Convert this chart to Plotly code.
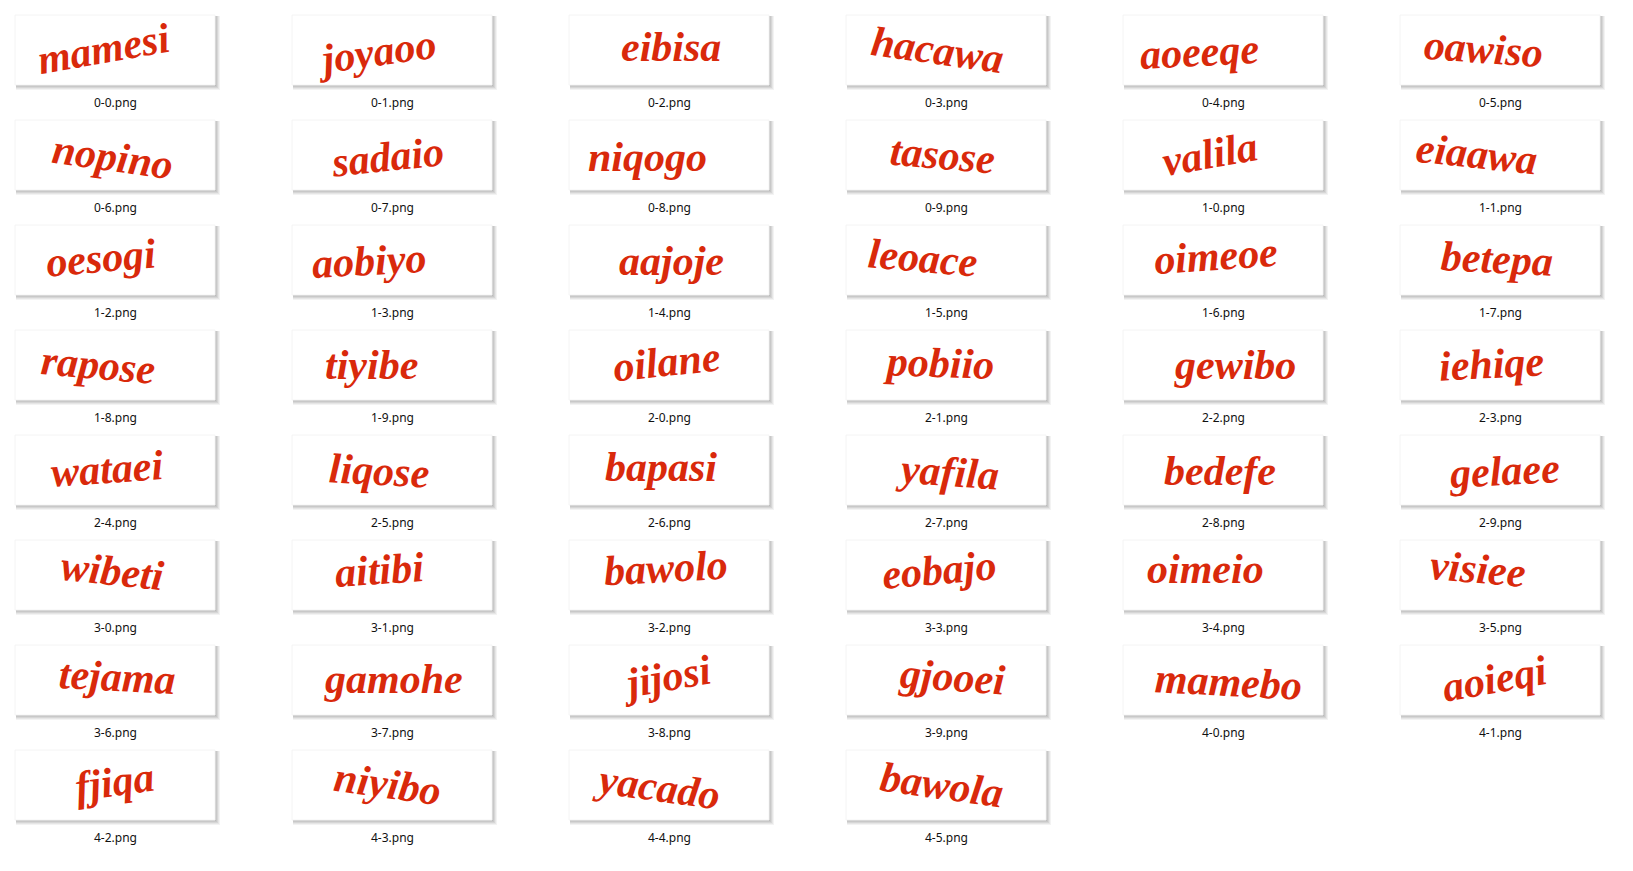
import plotly.graph_objects as go

# ---- data ----
file_names = [
    "0-0.png", "0-1.png", "0-2.png", "0-3.png", "0-4.png", "0-5.png",
    "0-6.png", "0-7.png", "0-8.png", "0-9.png", "1-0.png", "1-1.png",
    "1-2.png", "1-3.png", "1-4.png", "1-5.png", "1-6.png", "1-7.png",
    "1-8.png", "1-9.png", "2-0.png", "2-1.png", "2-2.png", "2-3.png",
    "2-4.png", "2-5.png", "2-6.png", "2-7.png", "2-8.png", "2-9.png",
    "3-0.png", "3-1.png", "3-2.png", "3-3.png", "3-4.png", "3-5.png",
    "3-6.png", "3-7.png", "3-8.png", "3-9.png", "4-0.png", "4-1.png",
    "4-2.png", "4-3.png", "4-4.png", "4-5.png",
]
captcha_words = [
    "mamesi", "joyaoo", "eibisa", "hacawa", "aoeeqe", "oawiso",
    "nopino", "sadaio", "niqogo", "tasose", "valila", "eiaawa",
    "oesogi", "aobiyo", "aajoje", "leoace", "oimeoe", "betepa",
    "rapose", "tiyibe", "oilane", "pobiio", "gewibo", "iehiqe",
    "wataei", "liqose", "bapasi", "yafila", "bedefe", "gelaee",
    "wibeti", "aitibi", "bawolo", "eobajo", "oimeio", "visiee",
    "tejama", "gamohe", "jijosi", "gjooei", "mamebo", "aoieqi",
    "fjiqa", "niyibo", "yacado", "bawola",
]

# ---- layout / style (not data) ----
n_cols = 6
col_step, row_step = 277, 105
box_w, box_h = 200, 70
x_start, y_start = 15, 15
label_gap = 17
word_dx = [
    -12, -16, 2, -9, -24, -17,
    -3, -5, -22, -4, -13, -24,
    -14, -23, 2, -23, -7, -3,
    -17, -21, -3, -7, 12, -9,
    -8, -13, -8, 1, -3, 4,
    -3, -13, -3, -7, -18, -22,
    2, 1, -3, 6, 5, -6,
    -1, -5, -12, -4,
]
word_dy = [
    -1, 2, -3, 0, 2, -1,
    2, 2, 2, 0, -1, -1,
    -2, 1, 1, -2, -4, -1,
    0, 0, -3, -2, 0, -1,
    -1, 1, -3, 2, 1, 1,
    -4, -5, -7, -5, -6, -6,
    -3, -1, -3, -3, 2, -1,
    -3, -1, 2, 0,
]
word_angle = [
    -10, -8, 0, 8, -3, 4,
    8, -6, 0, 5, -10, 6,
    -5, -3, 0, 5, -4, 3,
    5, 0, -6, 2, 0, -3,
    -4, 3, 0, 4, 0, -3,
    6, -4, -3, -5, 0, 5,
    3, 0, -10, 4, 3, -10,
    -8, 8, 8, 8,
]
red = "#d9290b"

shapes = []
annotations = []
shadow_colors = ["#f3f3f3", "#e6e6e6", "#d6d6d6", "#c8c8c8", "#bcbcbc"]

for i, (fname, word) in enumerate(zip(file_names, captcha_words)):
    r, c = divmod(i, n_cols)
    x0 = x_start + c * col_step
    y0 = y_start + r * row_step
    x1, y1 = x0 + box_w, y0 + box_h
    # soft shadow (right and bottom)
    for k, col in zip([5, 4, 3, 2, 1], shadow_colors):
        shapes.append(dict(type="rect", xref="x", yref="y", layer="below",
                           x0=x0 + 1, y0=y0 + 1, x1=x1 + k, y1=y1 + k,
                           fillcolor=col, line=dict(width=0)))
    shapes.append(dict(type="rect", xref="x", yref="y", layer="below",
                       x0=x0, y0=y0, x1=x1, y1=y1,
                       fillcolor="#ffffff", line=dict(color="#f4f4f4", width=1)))
    cx = (x0 + x1) / 2
    cy = (y0 + y1) / 2
    annotations.append(dict(
        x=cx + word_dx[i], y=cy + word_dy[i], xref="x", yref="y",
        text=word, showarrow=False, textangle=word_angle[i],
        font=dict(family="Liberation Serif", size=42, color=red,
                  weight="bold", style="italic"),
        xanchor="center", yanchor="middle",
    ))
    annotations.append(dict(
        x=cx, y=y1 + label_gap, xref="x", yref="y",
        text=fname, showarrow=False,
        font=dict(family="Noto Sans", size=12, color="#111111"),
        xanchor="center", yanchor="middle",
    ))

fig = go.Figure()
fig.add_trace(go.Scatter(x=[0, 1633], y=[0, 871], mode="markers",
                         marker=dict(opacity=0), hoverinfo="skip",
                         showlegend=False))
fig.update_layout(
    width=1633, height=871,
    margin=dict(l=0, r=0, t=0, b=0),
    paper_bgcolor="#ffffff", plot_bgcolor="#ffffff",
    shapes=shapes, annotations=annotations,
    xaxis=dict(range=[0, 1633], visible=False, fixedrange=True),
    yaxis=dict(range=[871, 0], visible=False, fixedrange=True),
    showlegend=False,
)
fig.write_html("out.html", config={"displayModeBar": False},
               post_script="document.body.style.margin='0';document.body.style.overflow='hidden';")
